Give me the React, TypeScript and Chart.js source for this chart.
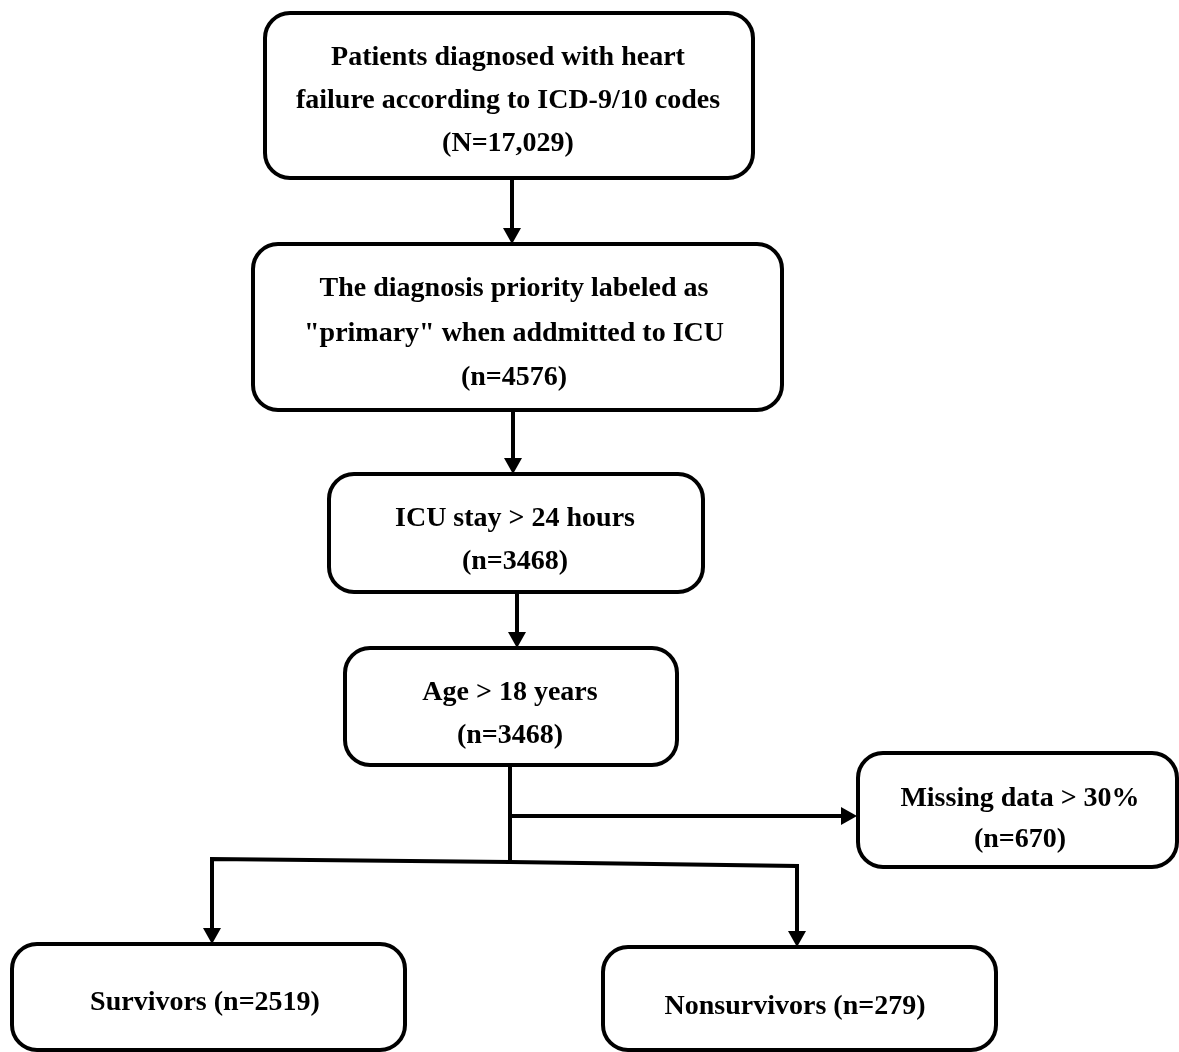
import React, { useEffect, useRef } from "react";
import { Chart, registerables } from "chart.js";

Chart.register(...registerables);

// ---- content ----
const stepLabels: string[][] = [
  ["Patients diagnosed with heart", "failure according to ICD-9/10 codes"],
  ["The diagnosis priority labeled as", "\"primary\" when addmitted to ICU"],
  ["ICU stay > 24 hours"],
  ["Age > 18 years"],
  ["Missing data > 30%"],
  ["Survivors"],
  ["Nonsurvivors"],
];
const stepCountPrefix: string[] = ["N", "n", "n", "n", "n", "n", "n"];
const stepCounts: string[] = ["17,029", "4576", "3468", "3468", "670", "2519", "279"];
const countInline: boolean[] = [false, false, false, false, false, true, true];

// ---- layout (data units of the hidden scales) ----
const boxLeft = [265, 253, 329, 345, 858, 12, 603];
const boxTop = [13, 244, 474, 648, 753, 944, 947];
const boxRight = [753, 782, 703, 677, 1177, 405, 996];
const boxBottom = [178, 410, 592, 765, 867, 1050, 1050];
const textX = [508, 514, 515, 510, 1020, 205, 795];
const textFirstY = [58, 289, 519, 693, 799, 1003, 1007];
const textLineGap = [43, 44.5, 43, 43, 41, 0, 0];

// connectors: polylines, arrowhead at the last point
const connectorX: number[][] = [
  [512, 512],
  [513, 513],
  [517, 517],
  [510, 510],
  [510, 857],
  [510, 212, 212],
  [510, 797, 797],
];
const connectorY: number[][] = [
  [178, 244],
  [410, 474],
  [592, 648],
  [765, 862],
  [816, 816],
  [862, 859, 944],
  [862, 866, 947],
];
const connectorArrow: boolean[] = [true, true, true, false, true, true, true];

const W = 1179;
const H = 1052;
const FONT = 'bold 28px "Liberation Serif", "Times New Roman", serif';

function roundRect(ctx: CanvasRenderingContext2D, x1: number, y1: number, x2: number, y2: number, r: number) {
  ctx.beginPath();
  ctx.moveTo(x1 + r, y1);
  ctx.lineTo(x2 - r, y1);
  ctx.arcTo(x2, y1, x2, y1 + r, r);
  ctx.lineTo(x2, y2 - r);
  ctx.arcTo(x2, y2, x2 - r, y2, r);
  ctx.lineTo(x1 + r, y2);
  ctx.arcTo(x1, y2, x1, y2 - r, r);
  ctx.lineTo(x1, y1 + r);
  ctx.arcTo(x1, y1, x1 + r, y1, r);
  ctx.closePath();
}

const flowPlugin = {
  id: "flowBoxes",
  beforeDatasetsDraw(chart: any) {
    const ctx: CanvasRenderingContext2D = chart.ctx;
    const xs = chart.scales.x;
    const ys = chart.scales.y;
    ctx.save();
    for (let i = 0; i < stepLabels.length; i++) {
      const x1 = xs.getPixelForValue(boxLeft[i]);
      const x2 = xs.getPixelForValue(boxRight[i]);
      const y1 = ys.getPixelForValue(boxTop[i]);
      const y2 = ys.getPixelForValue(boxBottom[i]);
      roundRect(ctx, x1, y1, x2, y2, 25);
      ctx.fillStyle = "#ffffff";
      ctx.fill();
      ctx.lineWidth = 4;
      ctx.strokeStyle = "#000000";
      ctx.stroke();

      const countText = `(${stepCountPrefix[i]}=${stepCounts[i]})`;
      const lines = countInline[i]
        ? [`${stepLabels[i][0]} ${countText}`]
        : [...stepLabels[i], countText];
      ctx.font = FONT;
      ctx.fillStyle = "#000000";
      ctx.textAlign = "center";
      ctx.textBaseline = "middle";
      const cx = xs.getPixelForValue(textX[i]);
      lines.forEach((t, k) => {
        const cy = ys.getPixelForValue(textFirstY[i] + k * textLineGap[i]);
        ctx.fillText(t, cx, cy);
      });
    }
    ctx.restore();
  },
  afterDatasetsDraw(chart: any) {
    const ctx: CanvasRenderingContext2D = chart.ctx;
    const xs = chart.scales.x;
    const ys = chart.scales.y;
    ctx.save();
    ctx.fillStyle = "#000000";
    for (let i = 0; i < connectorX.length; i++) {
      if (!connectorArrow[i]) continue;
      const n = connectorX[i].length;
      const ex = xs.getPixelForValue(connectorX[i][n - 1]);
      const ey = ys.getPixelForValue(connectorY[i][n - 1]);
      const px = xs.getPixelForValue(connectorX[i][n - 2]);
      const py = ys.getPixelForValue(connectorY[i][n - 2]);
      const ang = Math.atan2(ey - py, ex - px);
      const len = 16;
      const half = 9;
      const bx = ex - Math.cos(ang) * len;
      const by = ey - Math.sin(ang) * len;
      ctx.beginPath();
      ctx.moveTo(ex, ey);
      ctx.lineTo(bx - Math.sin(ang) * half, by + Math.cos(ang) * half);
      ctx.lineTo(bx + Math.sin(ang) * half, by - Math.cos(ang) * half);
      ctx.closePath();
      ctx.fill();
    }
    ctx.restore();
  },
};

export default function App() {
  const canvasRef = useRef<HTMLCanvasElement | null>(null);

  useEffect(() => {
    if (!canvasRef.current) return;
    const datasets = connectorX.map((xsArr, i) => {
      const n = xsArr.length;
      const pts = xsArr.map((x, k) => ({ x, y: connectorY[i][k] }));
      if (connectorArrow[i]) {
        const a = pts[n - 2];
        const b = pts[n - 1];
        const dx = b.x - a.x;
        const dy = b.y - a.y;
        const d = Math.hypot(dx, dy) || 1;
        pts[n - 1] = { x: b.x - (dx / d) * 10, y: b.y - (dy / d) * 10 };
      }
      return {
        type: "line" as const,
        data: pts,
        borderColor: "#000000",
        borderWidth: 4,
        pointRadius: 0,
        tension: 0,
        fill: false,
        borderCapStyle: "butt" as const,
        borderJoinStyle: "miter" as const,
        clip: false as any,
      };
    });
    const chart = new Chart(canvasRef.current, {
      type: "line",
      data: { datasets: datasets as any },
      options: {
        animation: false,
        responsive: false,
        maintainAspectRatio: false,
        devicePixelRatio: 1,
        events: [],
        layout: { padding: 0 },
        parsing: false as any,
        scales: {
          x: { type: "linear", min: 0, max: W, display: false },
          y: { type: "linear", min: 0, max: H, reverse: true, display: false },
        },
        plugins: {
          legend: { display: false },
          tooltip: { enabled: false },
        },
      },
      plugins: [flowPlugin],
    });
    return () => chart.destroy();
  }, []);

  return (
    <div style={{ position: "fixed", left: 0, top: 0, width: W, height: H, background: "#ffffff" }}>
      <canvas ref={canvasRef} width={W} height={H} style={{ width: W, height: H, display: "block" }} />
    </div>
  );
}
